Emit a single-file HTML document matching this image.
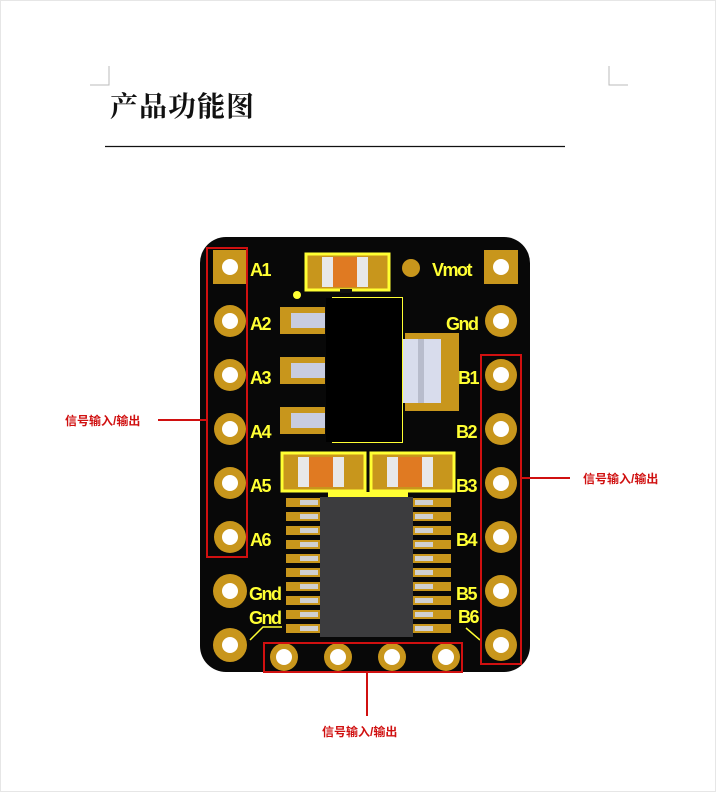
<!DOCTYPE html>
<html><head><meta charset="utf-8"><style>html,body{margin:0;padding:0;background:#fff}svg{display:block}</style></head>
<body>
<svg width="716" height="792" viewBox="0 0 716 792" xmlns="http://www.w3.org/2000/svg">
<rect x="0.5" y="0.5" width="715" height="791" fill="#fff" stroke="#e6e6e6"/>
<path d="M90 85 H109 V66" fill="none" stroke="#bbb"/>
<path d="M628 85 H609 V66" fill="none" stroke="#bbb"/>
<text x="110" y="116" font-family="Noto Serif CJK SC, serif" font-weight="bold" font-size="28" letter-spacing="1" fill="#111">产品功能图</text>
<line x1="105" y1="146.5" x2="565" y2="146.5" stroke="#111" stroke-width="1.2"/>

<rect x="200" y="237" width="330" height="435" rx="26" fill="#080808"/>

<rect x="306" y="254" width="83" height="36" fill="#c8961c" stroke="#ffff33" stroke-width="3"/>
<rect x="322" y="257" width="11" height="30" fill="#e8e8e8"/>
<rect x="333" y="257" width="24" height="30" fill="#e07a22"/>
<rect x="357" y="257" width="11" height="30" fill="#e8e8e8"/>
<rect x="340" y="289" width="12" height="4" fill="#111"/>
<circle cx="411" cy="268" r="9" fill="#c8961c"/>
<circle cx="297" cy="295" r="4" fill="#ffff33"/>

<rect x="280" y="307" width="45" height="27" fill="#c8961c"/>
<rect x="291" y="313" width="34" height="15" fill="#c8cce0"/>
<rect x="280" y="357" width="45" height="27" fill="#c8961c"/>
<rect x="291" y="363" width="34" height="15" fill="#c8cce0"/>
<rect x="280" y="407" width="45" height="27" fill="#c8961c"/>
<rect x="291" y="413" width="34" height="15" fill="#c8cce0"/>
<path d="M332 298 H402 V442 H332" fill="none" stroke="#ffff33" stroke-width="2"/>
<rect x="326" y="298" width="76" height="144" fill="#000"/>
<rect x="405" y="333" width="54" height="78" fill="#c8961c"/>
<rect x="403" y="339" width="38" height="64" fill="#d8dcec"/>
<rect x="418" y="339" width="6" height="64" fill="#b8bccc"/>

<rect x="282" y="453" width="83" height="38" fill="#c8961c" stroke="#ffff33" stroke-width="3"/>
<rect x="298" y="457" width="11" height="30" fill="#e8e8e8"/>
<rect x="309" y="457" width="24" height="30" fill="#e07a22"/>
<rect x="333" y="457" width="11" height="30" fill="#e8e8e8"/>
<rect x="371" y="453" width="83" height="38" fill="#c8961c" stroke="#ffff33" stroke-width="3"/>
<rect x="387" y="457" width="11" height="30" fill="#e8e8e8"/>
<rect x="398" y="457" width="24" height="30" fill="#e07a22"/>
<rect x="422" y="457" width="11" height="30" fill="#e8e8e8"/>
<rect x="328" y="492" width="80" height="6" fill="#ffff33"/>

<g fill="#c8961c">
<rect x="286" y="498" width="34" height="9"/><rect x="286" y="512" width="34" height="9"/><rect x="286" y="526" width="34" height="9"/><rect x="286" y="540" width="34" height="9"/><rect x="286" y="554" width="34" height="9"/><rect x="286" y="568" width="34" height="9"/><rect x="286" y="582" width="34" height="9"/><rect x="286" y="596" width="34" height="9"/><rect x="286" y="610" width="34" height="9"/><rect x="286" y="624" width="34" height="9"/>
<rect x="413" y="498" width="38" height="9"/><rect x="413" y="512" width="38" height="9"/><rect x="413" y="526" width="38" height="9"/><rect x="413" y="540" width="38" height="9"/><rect x="413" y="554" width="38" height="9"/><rect x="413" y="568" width="38" height="9"/><rect x="413" y="582" width="38" height="9"/><rect x="413" y="596" width="38" height="9"/><rect x="413" y="610" width="38" height="9"/><rect x="413" y="624" width="38" height="9"/>
</g>
<g fill="#d0d0d0">
<rect x="300" y="500" width="18" height="5"/><rect x="300" y="514" width="18" height="5"/><rect x="300" y="528" width="18" height="5"/><rect x="300" y="542" width="18" height="5"/><rect x="300" y="556" width="18" height="5"/><rect x="300" y="570" width="18" height="5"/><rect x="300" y="584" width="18" height="5"/><rect x="300" y="598" width="18" height="5"/><rect x="300" y="612" width="18" height="5"/><rect x="300" y="626" width="18" height="5"/>
<rect x="415" y="500" width="18" height="5"/><rect x="415" y="514" width="18" height="5"/><rect x="415" y="528" width="18" height="5"/><rect x="415" y="542" width="18" height="5"/><rect x="415" y="556" width="18" height="5"/><rect x="415" y="570" width="18" height="5"/><rect x="415" y="584" width="18" height="5"/><rect x="415" y="598" width="18" height="5"/><rect x="415" y="612" width="18" height="5"/><rect x="415" y="626" width="18" height="5"/>
</g>
<rect x="320" y="497" width="93" height="140" fill="#3c3c3e"/>

<g fill="#c8961c">
<rect x="213" y="250" width="34" height="34"/>
<circle cx="230" cy="321" r="16"/><circle cx="230" cy="375" r="16"/><circle cx="230" cy="429" r="16"/><circle cx="230" cy="483" r="16"/><circle cx="230" cy="537" r="16"/><circle cx="230" cy="591" r="17"/><circle cx="230" cy="645" r="17"/>
<rect x="484" y="250" width="34" height="34"/>
<circle cx="501" cy="321" r="16"/><circle cx="501" cy="375" r="16"/><circle cx="501" cy="429" r="16"/><circle cx="501" cy="483" r="16"/><circle cx="501" cy="537" r="16"/><circle cx="501" cy="591" r="16"/><circle cx="501" cy="645" r="16"/>
<circle cx="284" cy="657" r="14"/><circle cx="338" cy="657" r="14"/><circle cx="392" cy="657" r="14"/><circle cx="446" cy="657" r="14"/>
</g>
<g fill="#fff">
<circle cx="230" cy="267" r="8"/><circle cx="230" cy="321" r="8"/><circle cx="230" cy="375" r="8"/><circle cx="230" cy="429" r="8"/><circle cx="230" cy="483" r="8"/><circle cx="230" cy="537" r="8"/><circle cx="230" cy="591" r="8"/><circle cx="230" cy="645" r="8"/>
<circle cx="501" cy="267" r="8"/><circle cx="501" cy="321" r="8"/><circle cx="501" cy="375" r="8"/><circle cx="501" cy="429" r="8"/><circle cx="501" cy="483" r="8"/><circle cx="501" cy="537" r="8"/><circle cx="501" cy="591" r="8"/><circle cx="501" cy="645" r="8"/>
<circle cx="284" cy="657" r="8"/><circle cx="338" cy="657" r="8"/><circle cx="392" cy="657" r="8"/><circle cx="446" cy="657" r="8"/>
</g>

<g font-family="Liberation Sans, sans-serif" font-weight="bold" font-size="18" fill="#ffff33" letter-spacing="-1.5">
<text x="250" y="276">A1</text><text x="250" y="330">A2</text><text x="250" y="384">A3</text><text x="250" y="438">A4</text><text x="250" y="492">A5</text><text x="250" y="546">A6</text>
<text x="249" y="600">Gnd</text><text x="249" y="624">Gnd</text>
<text x="432" y="276">Vmot</text><text x="446" y="330">Gnd</text>
<text x="458" y="384">B1</text><text x="456" y="438">B2</text><text x="456" y="492">B3</text><text x="456" y="546">B4</text><text x="456" y="600">B5</text><text x="458" y="623">B6</text>
</g>
<path d="M282 627 H263 L250 640" fill="none" stroke="#ffff33" stroke-width="1.5"/>
<path d="M466 628 L480 640" fill="none" stroke="#ffff33" stroke-width="1.5"/>

<g fill="none" stroke="#d01010" stroke-width="2">
<rect x="207" y="248" width="40" height="309"/>
<rect x="481" y="355" width="40" height="309"/>
<rect x="264" y="643" width="198" height="29"/>
<line x1="158" y1="420" x2="206" y2="420"/>
<line x1="522" y1="478" x2="570" y2="478"/>
<line x1="367" y1="672" x2="367" y2="716"/>
</g>
<g font-family="Liberation Sans, Noto Sans CJK SC, sans-serif" font-weight="bold" font-size="12" fill="#d01010">
<text x="65" y="425">信号输入/输出</text>
<text x="583" y="483">信号输入/输出</text>
<text x="322" y="736">信号输入/输出</text>
</g>
</svg>
</body></html>
